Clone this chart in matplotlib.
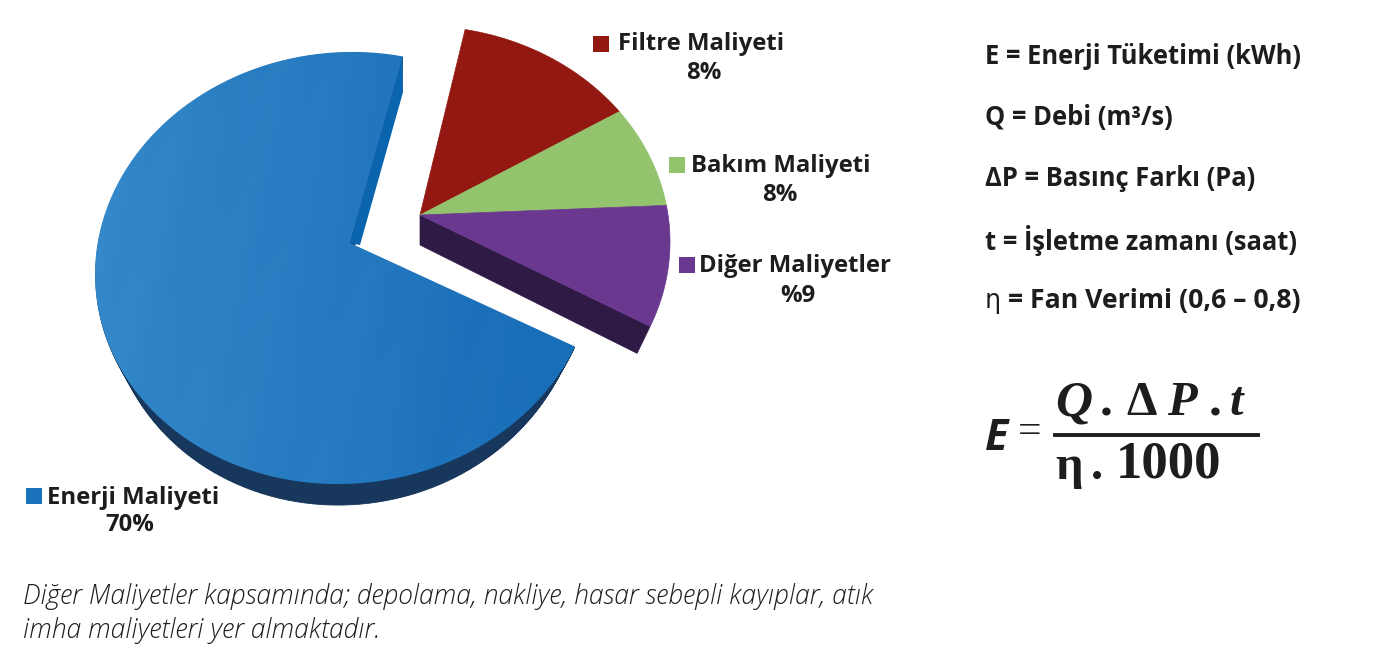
import numpy as np
import matplotlib
matplotlib.use("Agg")
import matplotlib.pyplot as plt
from matplotlib.patches import Polygon

# slice shares (the printed labels do not add up to 100)
names = ["Enerji Maliyeti", "Filtre Maliyeti", "Bakım Maliyeti", "Diğer Maliyetler"]
printed = ["70%", "8%", "8%", "%9"]
shares = [71.5, 11.8, 7.6, 9.1]
colors = ["#1b72bd", "#921811", "#93c36d", "#6a398f"]

legend_lines = ["E = Enerji Tüketimi (kWh)", "Q = Debi (m³/s)", "ΔP = Basınç Farkı (Pa)",
                "t = İşletme zamanı (saat)", "= Fan Verimi (0,6 – 0,8)"]
note = ["Diğer Maliyetler kapsamında; depolama, nakliye, hasar sebepli kayıplar, atık",
        "imha maliyetleri yer almaktadır."]

fig = plt.figure(figsize=(13.85, 6.65), dpi=100)
ax = fig.add_axes([0, 0, 1, 1])
ax.set_xlim(0, 1385)
ax.set_ylim(665, 0)
ax.axis("off")

RX, RY = 250, 216
START = 79.6  # top edge of the filter slice, going clockwise
BLUE_END = START - 3  # the pulled-out blue slice is seen from a slightly different side


def slice_poly(t0, t1, cx, cy, apex):
    t = np.radians(np.linspace(t0, t1, 120))
    x = cx + RX * np.cos(t)
    y = cy - RY * np.sin(t)
    return np.column_stack([np.r_[apex[0], x], np.r_[apex[1], y]])


fracs = np.array(shares) / sum(shares) * 360
t_red = START - fracs[1]
t_green = t_red - fracs[2]
t_purple = t_green - fracs[3]

# blue slice, pulled away to the lower left
BLUE_C, BLUE_A = (345, 268), (350, 243)
blue = slice_poly(t_purple + 360, BLUE_END, BLUE_C[0], BLUE_C[1], BLUE_A)
blue[1:, 1] -= 0.025 * (blue[1:, 0] - BLUE_C[0])  # the ellipse leans a little
for dy in np.arange(21, 0, -1):
    # rim narrows as it goes down, so it hides on the far left
    wx = BLUE_C[0] + (blue[:, 0] - BLUE_C[0]) * (1 - dy * 0.0025)
    ax.fill(wx, blue[:, 1] + dy, color="#17375c", lw=0.6, zorder=2)

# cut face of the blue slice
top_end = blue[-1]
face = [top_end, top_end + [0, 36], (BLUE_A[0] + 10, BLUE_A[1] + 2), BLUE_A]
ax.add_patch(Polygon(face, closed=True, fc="#0a65ae", ec="none", zorder=3))

# gradient with faint streaks on top of the blue slice
xx, yy = np.meshgrid(np.linspace(90, 610, 520), np.linspace(40, 490, 450))
g = 1 - np.clip((xx - 95) / 440, 0, 1)
band = xx + 0.25 * yy
g = g * 0.8 + 0.035 * np.sin(band / 9) * np.sin(band / 41) + 0.02 * np.sin(band / 23)
light = np.array([0x3a, 0x8f, 0xce]) / 255
dark = np.array([0x19, 0x6e, 0xb8]) / 255
rgb = dark + (light - dark) * np.clip(g, 0, 1)[..., None]
im = ax.imshow(rgb, extent=(90, 610, 490, 40), aspect="auto", zorder=4)
blue_patch = Polygon(blue, closed=True, fc="none", ec="none", transform=ax.transData)
ax.add_patch(blue_patch)
im.set_clip_path(blue_patch)
ax.set_xlim(0, 1385)
ax.set_ylim(665, 0)

# three slices pulled out to the upper right
CX, CY = 420, 242
APEX = (420, 215)
purple = slice_poly(t_green, t_purple, CX, CY, APEX)
wall = [APEX, (APEX[0], APEX[1] + 30), purple[-1] + [-13, 27], purple[-1]]
ax.add_patch(Polygon(wall, closed=True, fc="#2e1a45", ec="#2e1a45", lw=0.5, zorder=3))
ax.add_patch(Polygon(slice_poly(START, t_red, CX, CY, APEX), closed=True, fc=colors[1], ec=colors[1], lw=0.5, zorder=5))
ax.add_patch(Polygon(slice_poly(t_red, t_green, CX, CY, APEX), closed=True, fc=colors[2], ec=colors[2], lw=0.5, zorder=5))
ax.add_patch(Polygon(purple, closed=True, fc=colors[3], ec=colors[3], lw=0.5, zorder=5))

# slice labels
label_font = dict(family="Open Sans", fontweight="bold", fontsize=17.2, color="#1d1d1b", zorder=6)
label_pos = [(47, 498, 130, 525), (618, 44, 704, 73), (691, 166, 780, 195), (699, 266, 798, 296)]
square_pos = [(26, 488), (593, 36), (669, 157), (679, 257)]
for i in range(4):
    x, y, xv, yv = label_pos[i]
    ax.text(x, y, names[i], ha="left", va="center", **label_font)
    ax.text(xv, yv, printed[i], ha="center", va="center", **label_font)
    sx, sy = square_pos[i]
    ax.add_patch(Polygon([(sx, sy), (sx + 16, sy), (sx + 16, sy + 16), (sx, sy + 16)],
                         closed=True, fc=colors[i], ec="none", zorder=6))

# definitions on the right
ys = [57, 118, 179, 240, 301]
for i, s in enumerate(legend_lines):
    x = 1008 if i == 4 else 985
    size = 19.2 if i == 4 else 18.4
    ax.text(x, ys[i], s, ha="left", va="center", family="Open Sans", fontweight="bold",
            fontsize=size, color="#1d1d1b")
ax.text(985, 301, "η", ha="left", va="center", family="DejaVu Sans", fontsize=18.4, color="#1d1d1b")

# formula
ax.text(985, 439, "E", ha="left", va="center", family="Open Sans", fontweight="bold", style="italic",
        fontsize=31, color="#1d1d1b")
ax.text(1018, 433, "=", ha="left", va="center", family="Liberation Serif", fontsize=30, color="#1d1d1b")
serif = dict(family="Liberation Serif", fontweight="bold", color="#1d1d1b", va="center")
ax.text(1055, 403, "Q", style="italic", fontsize=37, ha="left", **serif)
ax.text(1100, 403, ".", fontsize=37, ha="left", **serif)
ax.text(1126, 403, "Δ", fontsize=35, ha="left", **serif)
ax.text(1167, 403, "P", style="italic", fontsize=35, ha="left", **serif)
ax.text(1209, 403, ".", fontsize=37, ha="left", **serif)
ax.text(1230, 403, "t", style="italic", fontsize=35, ha="left", **serif)
ax.plot([1055, 1258], [435, 435], color="#1d1d1b", lw=2.8)
ax.text(1055, 467, "η", fontsize=35, ha="left", **serif)
ax.text(1091, 467, ".", fontsize=35, ha="left", **serif)
ax.text(1116, 465, "1000", fontsize=38, ha="left", **serif)

# note below the chart
for s, y in zip(note, [596, 630]):
    ax.text(23, y, s, ha="left", va="center", family="Open Sans", style="italic", fontweight="light",
            fontsize=19.1, color="#1d1d1b")

fig.savefig("out.png", dpi=100)
